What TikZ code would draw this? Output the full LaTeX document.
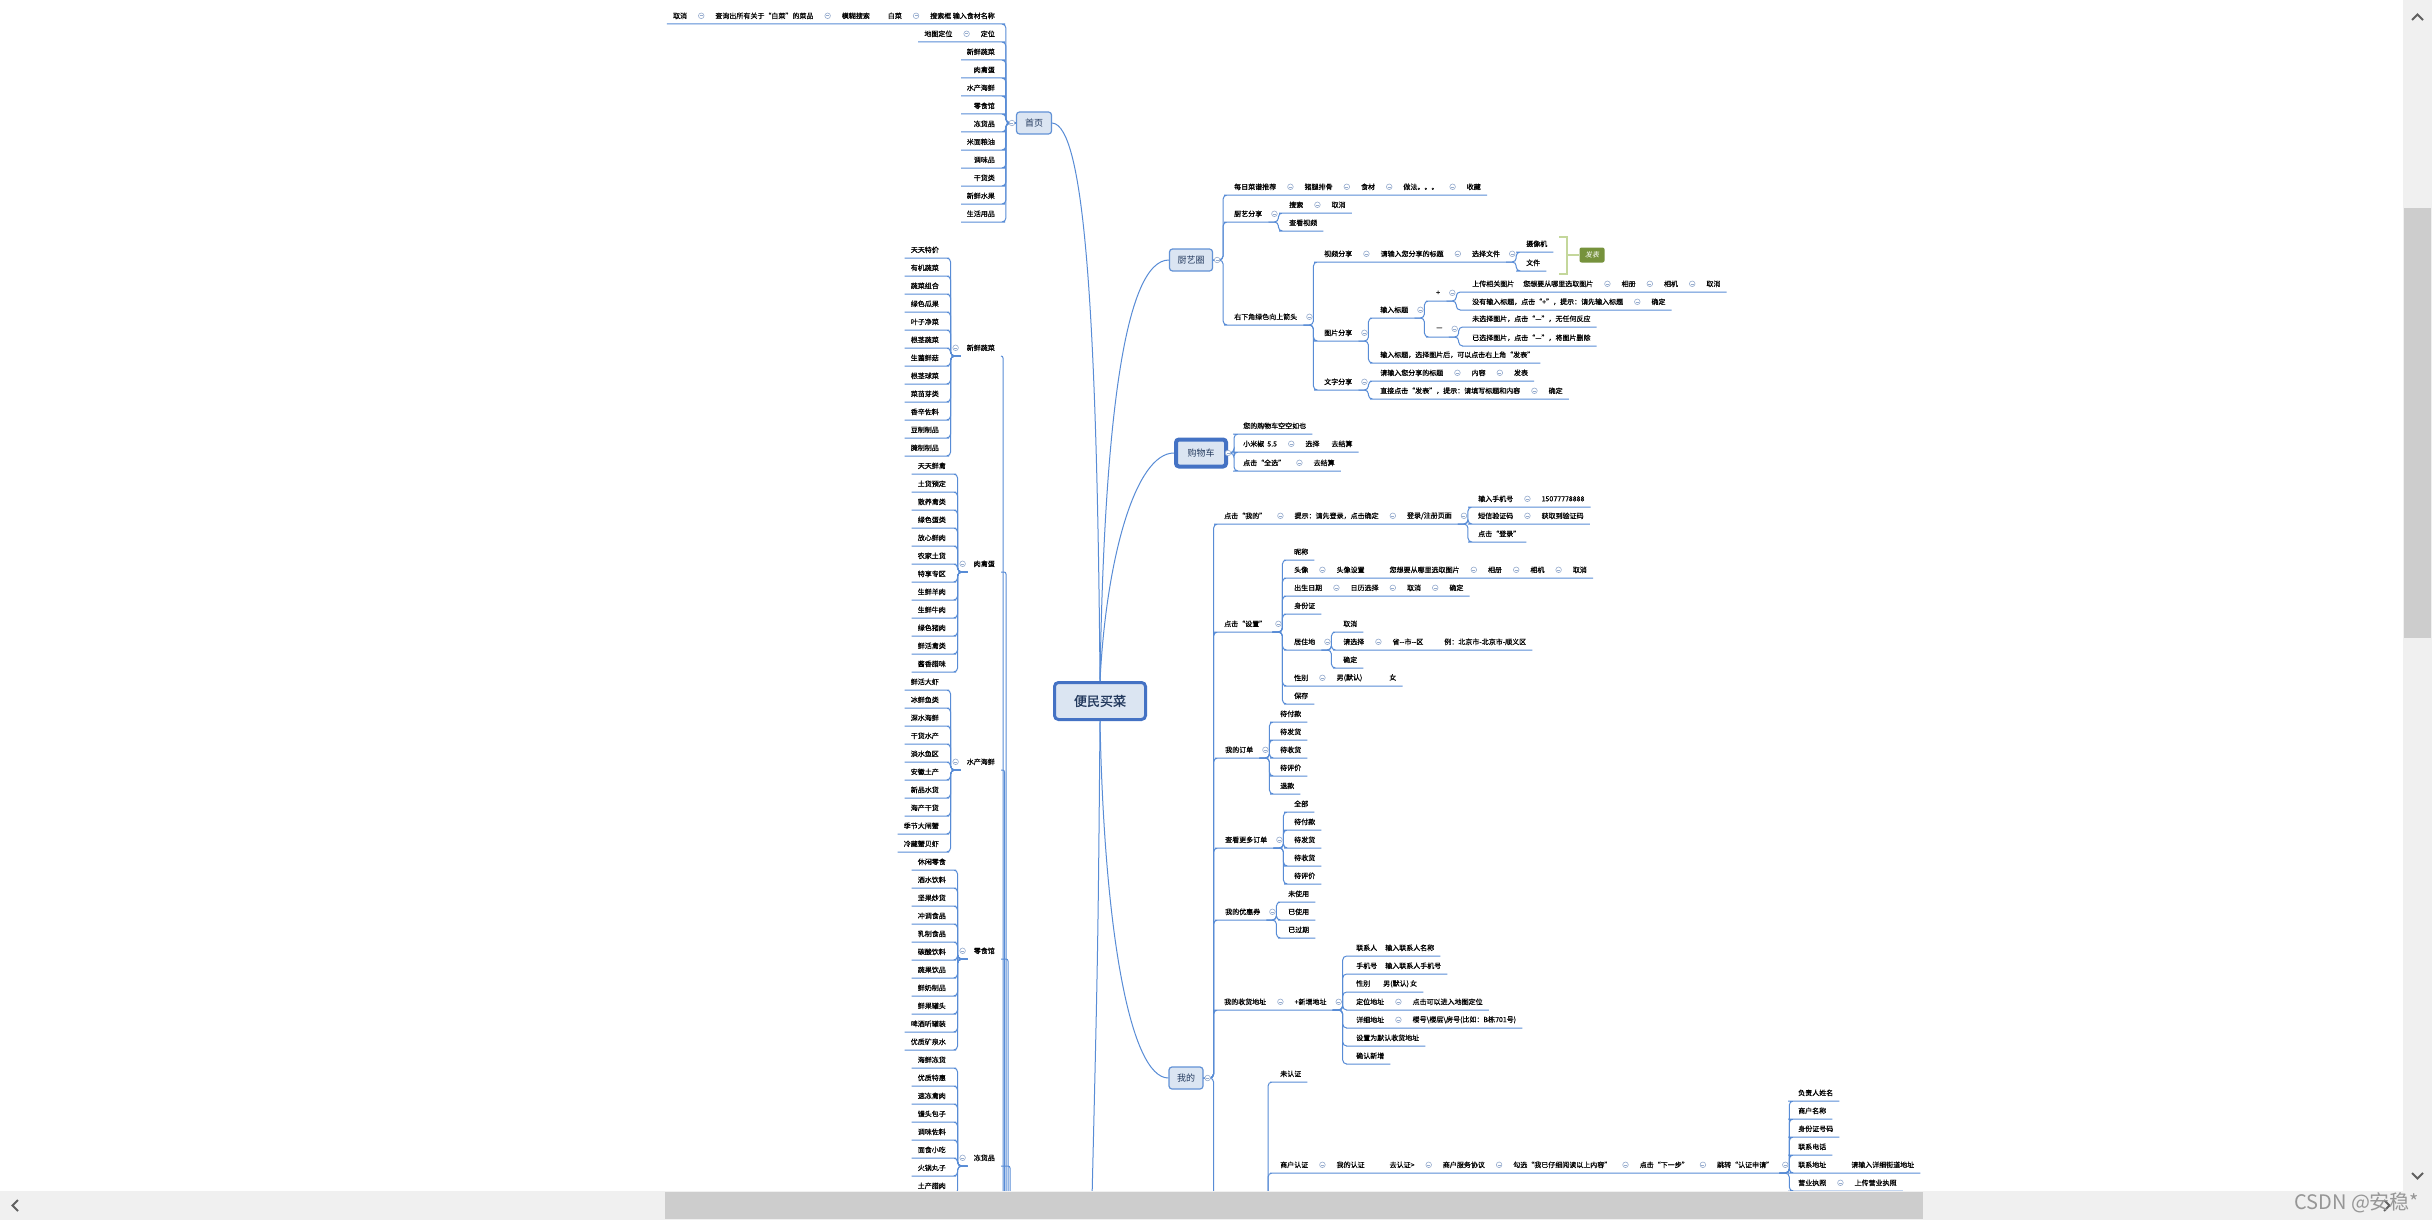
\documentclass[tikz,border=0pt]{standalone}
\usepackage{fontspec}
\setmainfont{Noto Sans CJK SC}
\newfontfamily\slantfont{Noto Sans CJK SC}[FakeSlant=0.2]
\newfontfamily\tpfont{Noto Sans CJK SC}[FakeBold=0.5]
\newfontfamily\mainfont{Noto Sans CJK SC}[FakeBold=1.2]
\usepackage{tikz}
\usetikzlibrary{positioning, calc}

\definecolor{lnkc}{RGB}{88,140,214}
\definecolor{boxf}{RGB}{219,229,242}
\definecolor{boxd}{RGB}{98,146,214}
\definecolor{boxs}{RGB}{68,114,196}
\definecolor{boxt}{RGB}{36,58,94}
\definecolor{foldc}{RGB}{150,172,206}
\definecolor{sumc}{RGB}{196,215,155}
\definecolor{sumf}{RGB}{118,146,60}
\definecolor{barc}{RGB}{240,240,240}
\definecolor{thumbc}{RGB}{205,205,205}
\definecolor{arrc}{RGB}{96,96,96}
\definecolor{wmc}{RGB}{150,150,150}

\begin{document}
\begin{tikzpicture}[x=1pt, y=-1pt,
    tp/.style={font=\tpfont\fontsize{7}{8}\selectfont, inner xsep=6pt, inner ysep=0pt, minimum height=16pt, anchor=south west},
    tl/.style={tp, anchor=south east},
    lnk/.style={draw=lnkc, line width=1pt, rounded corners=4pt},
    box/.style={draw=boxd, fill=boxf, text=boxt, line width=1.2pt, rounded corners=3pt, minimum height=22pt, font=\fontsize{9}{10}\selectfont},
    fold/.pic={\draw[foldc, fill=white, line width=.6pt] (0,0) circle (2.8pt); \draw[foldc, line width=.6pt] (-1.5pt,0) -- (1.5pt,0);}]
\useasboundingbox (0,0) rectangle (2432,1220);
\fill[white] (0,0) rectangle (2432,1220);

% main topics
\node[box, draw=boxs, line width=3pt, minimum width=91pt, minimum height=37pt, rounded corners=4pt, font=\mainfont\fontsize{13}{14}\selectfont] (main) at (1100,701) {便民买菜};
\node[box, minimum width=35pt] (sy) at (1034,123) {首页};
\node[box, minimum width=43pt] (cy) at (1191,260) {厨艺圈};
\node[box, draw=boxs, line width=4pt, minimum width=50pt, minimum height=27pt] (gw) at (1201,453) {购物车};
\node[box, minimum width=34pt] (wd) at (1186,1078) {我的};

\coordinate (mb) at (1091,1240);
\draw[lnk] (main.north) .. controls (1097,320) and (1085,125) .. (sy.east);
\draw[lnk] (main.north) .. controls (1104,420) and (1125,260) .. (cy.west);
\draw[lnk] (main.north) .. controls (1106,560) and (1135,453) .. (gw.west);
\draw[lnk] (main.south) .. controls (1104,930) and (1130,1078) .. (wd.west);
\draw[lnk] (main.south) .. controls (1098,950) .. (mb);

% 首页
\node[tl] (s1) at (1001,24) {搜索框\ 输入食材名称};
\node[tp, left=16pt of s1] (s2) {模糊搜索\hspace{18pt}白菜};
\node[tp, left=16pt of s2] (s3) {查询出所有关于“白菜”的菜品};
\node[tp, left=16pt of s3] (s4) {取消};
\node[tl] (m1) at (1001,42) {定位};
\node[tp, left=16pt of m1] (m2) {地图定位};
\foreach \txt [count=\i] in {新鲜蔬菜,肉禽蛋,水产海鲜,零食馆,冻货品,米面粮油,调味品,干货类,新鲜水果,生活用品}
  \node[tl] (h\i) at (1001,42+18*\i) {\txt};
\draw[lnk] (sy.west) -- ++(-10,0) |- (s1.south east) -- (s4.south west);
\draw[lnk] (sy.west) -- ++(-10,0) |- (m1.south east) -- (m2.south west);
\foreach \i in {1,...,10}
  \draw[lnk] (sy.west) -- ++(-10,0) |- (h\i.south east) -- ++(-40,0);

% categories on the left
\node[tl] (vc) at (1001,356) {新鲜蔬菜};
\node[tl] (rq) at (1001,572) {肉禽蛋};
\node[tl] (sc) at (1001,770) {水产海鲜};
\node[tl] (ls) at (1001,959) {零食馆};
\node[tl] (dh) at (1001,1166) {冻货品};
\foreach \a/\x in {vc/1003, rq/1006, sc/1004.5, ls/1008, dh/1010} {
  \coordinate (\a-e) at (\x,1240);
  \draw[lnk, rounded corners=2pt] (\a.south east) -| (\a-e);
}
\foreach \txt [count=\i from 0] in {天天特价,有机蔬菜,蔬菜组合,绿色瓜果,叶子净菜,根茎蔬菜,生菌鲜菇,根茎球菜,菜苗芽类,香辛佐料,豆制制品,腌制制品} {
  \node[tl] (vc\i) at (945,258+18*\i) {\txt};
  \draw[lnk] (vc.south west) -- ++(-10,0) |- (vc\i.south east) -- (vc\i.south west);
}
\foreach \txt [count=\i from 0] in {天天鲜禽,土货预定,散养禽类,绿色蛋类,放心鲜肉,农家土货,特享专区,生鲜羊肉,生鲜牛肉,绿色猪肉,鲜活禽类,酱香腊味} {
  \node[tl] (rq\i) at (952,474+18*\i) {\txt};
  \draw[lnk] (rq.south west) -- ++(-10,0) |- (rq\i.south east) -- (rq\i.south west);
}
\foreach \txt [count=\i from 0] in {鲜活大虾,冰鲜鱼类,深水海鲜,干货水产,淡水鱼区,安徽土产,新品水货,海产干货,季节大闸蟹,冷藏蟹贝虾} {
  \node[tl] (sc\i) at (945,690+18*\i) {\txt};
  \draw[lnk] (sc.south west) -- ++(-10,0) |- (sc\i.south east) -- (sc\i.south west);
}
\foreach \txt [count=\i from 0] in {休闲零食,酒水饮料,坚果炒货,冲调食品,乳制食品,碳酸饮料,蔬果饮品,鲜奶制品,鲜果罐头,啤酒听罐装,优质矿泉水} {
  \node[tl] (ls\i) at (952,870+18*\i) {\txt};
  \draw[lnk] (ls.south west) -- ++(-10,0) |- (ls\i.south east) -- (ls\i.south west);
}
\foreach \txt [count=\i from 0] in {海鲜冻货,优质特惠,速冻禽肉,馒头包子,调味佐料,面食小吃,火锅丸子,土产腊肉} {
  \node[tl] (dh\i) at (952,1068+18*\i) {\txt};
  \draw[lnk] (dh.south west) -- ++(-10,0) |- (dh\i.south east) -- (dh\i.south west);
}

% 厨艺圈
\node[tp] (c1) at (1228,195) {每日菜谱推荐};
\node[tp, right=16pt of c1] (c1b) {猪腿排骨};
\node[tp, right=16pt of c1b] (c1c) {食材};
\node[tp, right=16pt of c1c] (c1d) {做法。。。};
\node[tp, right=16pt of c1d] (c1e) {收藏};
\node[tp] (c2) at (1228,222) {厨艺分享};
\node[tp] (c2a) at (1283,213) {搜索};
\node[tp, right=16pt of c2a] (c2b) {取消};
\node[tp] (c2c) at (1283,231) {查看视频};
\node[tp] (c3) at (1228,325) {右下角绿色向上箭头};
\node[tp] (v1) at (1318,262) {视频分享};
\node[tp, right=16pt of v1] (v2) {请输入您分享的标题};
\node[tp, right=16pt of v2] (v3) {选择文件};
\node[tp] (v4) at (1520,252) {摄像机};
\node[tp] (v5) at (1520,271) {文件};
\node[fill=sumf, text=white, rounded corners=2pt, minimum width=25pt, minimum height=15pt, inner sep=0pt, font=\slantfont\fontsize{7}{8}\selectfont] (fb) at (1592,255) {发表};
\draw[sumc, line width=1.8pt] (1559,237) -| (1567,274) -- (1559,274);
\draw[sumc, line width=1.8pt] (1567,255) -- (fb.west);
\node[tp] (p1) at (1318,341) {图片分享};
\node[tp] (p2) at (1374,318) {输入标题};
\node[tp] (p3) at (1430,301) {+};
\node[tp] (p4) at (1430,337) {—};
\node[tp] (q1) at (1466,292) {上传相关图片\hspace{9pt}您想要从哪里选取图片};
\node[tp, right=16pt of q1] (q1b) {相册};
\node[tp, right=16pt of q1b] (q1c) {相机};
\node[tp, right=16pt of q1c] (q1d) {取消};
\node[tp] (q2) at (1466,310) {没有输入标题，点击“+”，提示：请先输入标题};
\node[tp, right=16pt of q2] (q2b) {确定};
\node[tp] (r1) at (1466,327) {未选择图片，点击“—”，无任何反应};
\node[tp] (r2) at (1466,346) {已选择图片，点击“—”，将图片删除};
\node[tp] (p5) at (1374,363) {输入标题，选择图片后，可以点击右上角“发表”};
\node[tp] (t1) at (1318,390) {文字分享};
\node[tp] (t2) at (1374,381) {请输入您分享的标题};
\node[tp, right=16pt of t2] (t2b) {内容};
\node[tp, right=16pt of t2b] (t2c) {发表};
\node[tp] (t3) at (1374,399) {直接点击“发表”，提示：请填写标题和内容};
\node[tp, right=16pt of t3] (t3b) {确定};

% 购物车
\node[tp] (g1) at (1237,434) {您的购物车空空如也};
\node[tp] (g2) at (1237,452) {小米椒\ \ 5.5};
\node[tp, right=16pt of g2] (g2b) {选择\hspace{12pt}去结算};
\node[tp] (g3) at (1237,471) {点击“全选”};
\node[tp, right=16pt of g3] (g3b) {去结算};
\foreach \a/\b in {g1/g1, g2/g2b, g3/g3b}
  \draw[lnk] (gw.east) -- ++(6,0) |- (\a.south west) -- (\b.south east);

% 我的
\node[tp] (w1) at (1218,524) {点击“我的”};
\node[tp, right=16pt of w1] (w1b) {提示：请先登录，点击确定};
\node[tp, right=16pt of w1b] (w1c) {登录/注册页面};
\node[tp] (w1d) at (1472,507) {输入手机号};
\node[tp, right=16pt of w1d] (w1e) {15077778888};
\node[tp] (w1f) at (1472,524) {短信验证码};
\node[tp, right=16pt of w1f] (w1g) {获取到验证码};
\node[tp] (w1h) at (1472,542) {点击“登录”};
\node[tp] (w2) at (1218,632) {点击“设置”};
\node[tp] (w2a) at (1288,560) {昵称};
\node[tp] (w2b) at (1288,578) {头像};
\node[tp, right=16pt of w2b] (w2c) {头像设置\hspace{25pt}您想要从哪里选取图片};
\node[tp, right=16pt of w2c] (w2d) {相册};
\node[tp, right=16pt of w2d] (w2e) {相机};
\node[tp, right=16pt of w2e] (w2f) {取消};
\node[tp] (w2g) at (1288,596) {出生日期};
\node[tp, right=16pt of w2g] (w2h) {日历选择};
\node[tp, right=16pt of w2h] (w2i) {取消};
\node[tp, right=16pt of w2i] (w2j) {确定};
\node[tp] (w2k) at (1288,614) {身份证};
\node[tp] (w2l) at (1288,650) {居住地};
\node[tp] (w2m) at (1337,632) {取消};
\node[tp] (w2n) at (1337,650) {请选择};
\node[tp, right=16pt of w2n] (w2o) {省-{}-市-{}-区\hspace{21pt}例：北京市-北京市-顺义区};
\node[tp] (w2p) at (1337,668) {确定};
\node[tp] (w2q) at (1288,686) {性别};
\node[tp, right=16pt of w2q] (w2r) {男(默认)\hspace{27pt}女};
\node[tp] (w2s) at (1288,704) {保存};
\node[tp] (w3) at (1219,758) {我的订单};
\node[tp] (w4) at (1219,848) {查看更多订单};
\node[tp] (w5) at (1219,920) {我的优惠券};
\node[tp] (w6) at (1218,1010) {我的收货地址};
\node[tp, right=16pt of w6] (w6b) {+新增地址};
\node[tp] (w6c) at (1350,956) {联系人\hspace{8pt}输入联系人名称};
\node[tp] (w6d) at (1350,974) {手机号\hspace{8pt}输入联系人手机号};
\node[tp] (w6e) at (1350,992) {性别\hspace{13pt}男(默认)\,女};
\node[tp] (w6f) at (1350,1010) {定位地址};
\node[tp, right=16pt of w6f] (w6g) {点击可以进入地图定位};
\node[tp] (w6h) at (1350,1028) {详细地址};
\node[tp, right=16pt of w6h] (w6i) {楼号\textbackslash 楼层\textbackslash 房号(比如：B栋701号)};
\node[tp] (w6j) at (1350,1046) {设置为默认收货地址};
\node[tp] (w6k) at (1350,1064) {确认新增};
\coordinate (rz) at (1258,1262);
\node[tp] (w7) at (1274,1082) {未认证};
\node[tp] (w8) at (1274,1173) {商户认证};
\node[tp, right=16pt of w8] (w8b) {我的认证\hspace{25pt}去认证>};
\node[tp, right=16pt of w8b] (w8c) {商户服务协议};
\node[tp, right=16pt of w8c] (w8d) {勾选“我已仔细阅读以上内容”};
\node[tp, right=16pt of w8d] (w8e) {点击“下一步”};
\node[tp, right=16pt of w8e] (w8f) {跳转“认证申请”};
\node[tp] (w9a) at (1792,1101) {负责人姓名};
\node[tp] (w9b) at (1792,1119) {商户名称};
\node[tp] (w9c) at (1792,1137) {身份证号码};
\node[tp] (w9d) at (1792,1155) {联系电话};
\node[tp] (w9e) at (1792,1173) {联系地址\hspace{25pt}请输入详细街道地址};
\node[tp] (w9f) at (1792,1191) {营业执照};
\node[tp, right=16pt of w9f] (w9g) {上传营业执照};
\draw[lnk] (wd.east) -- ++(10,0) |- (rz);
\foreach \txt [count=\i from 0] in {待付款,待发货,待收货,待评价,退款} {
  \node[tp] (w3\i) at (1274,722+18*\i) {\txt};
  \draw[lnk] (w3.south east) -- ++(10,0) |- (w3\i.south west) -- (w3\i.south east);
}
\foreach \txt [count=\i from 0] in {全部,待付款,待发货,待收货,待评价} {
  \node[tp] (w4\i) at (1288,812+18*\i) {\txt};
  \draw[lnk] (w4.south east) -- ++(10,0) |- (w4\i.south west) -- (w4\i.south east);
}
\foreach \txt [count=\i from 0] in {未使用,已使用,已过期} {
  \node[tp] (w5\i) at (1282,902+18*\i) {\txt};
  \draw[lnk] (w5.south east) -- ++(10,0) |- (w5\i.south west) -- (w5\i.south east);
}

% fans on the right
\foreach \p/\a/\b in {cy.east/c1/c1e, cy.east/c2/c2, cy.east/c3/c3,
    c2.south east/c2a/c2b, c2.south east/c2c/c2c,
    c3.south east/v1/v3, c3.south east/p1/p1, c3.south east/t1/t1,
    v3.south east/v4/v4, v3.south east/v5/v5,
    p1.south east/p2/p2, p1.south east/p5/p5,
    p2.south east/p3/p3, p2.south east/p4/p4,
    p3.south east/q1/q1d, p3.south east/q2/q2b,
    p4.south east/r1/r1, p4.south east/r2/r2,
    t1.south east/t2/t2c, t1.south east/t3/t3b,
    wd.east/w1/w1c, wd.east/w2/w2, wd.east/w3/w3, wd.east/w4/w4, wd.east/w5/w5, wd.east/w6/w6b,
    w1c.south east/w1d/w1e, w1c.south east/w1f/w1g, w1c.south east/w1h/w1h,
    w2.south east/w2a/w2a, w2.south east/w2b/w2f, w2.south east/w2g/w2j, w2.south east/w2k/w2k,
    w2.south east/w2l/w2l, w2.south east/w2q/w2r, w2.south east/w2s/w2s,
    w2l.south east/w2m/w2m, w2l.south east/w2n/w2o, w2l.south east/w2p/w2p,
    w6b.south east/w6c/w6c, w6b.south east/w6d/w6d, w6b.south east/w6e/w6e, w6b.south east/w6f/w6g,
    w6b.south east/w6h/w6i, w6b.south east/w6j/w6j, w6b.south east/w6k/w6k,
    rz/w7/w7, rz/w8/w8f,
    w8f.south east/w9a/w9a, w8f.south east/w9b/w9b, w8f.south east/w9c/w9c,
    w8f.south east/w9d/w9d, w8f.south east/w9e/w9e, w8f.south east/w9f/w9g}
  \draw[lnk] (\p) -- ++(10,0) |- (\a.south west) -- (\b.south east);

% fold marks
\foreach \a/\b in {s4/s3, s3/s2, s2/s1, m2/m1, c1/c1b, c1b/c1c, c1c/c1d, c1d/c1e, c2a/c2b,
    v1/v2, v2/v3, q1/q1b, q1b/q1c, q1c/q1d, q2/q2b, t2/t2b, t2b/t2c, t3/t3b, g2/g2b, g3/g3b,
    w1/w1b, w1b/w1c, w1d/w1e, w1f/w1g, w2b/w2c, w2c/w2d, w2d/w2e, w2e/w2f, w2g/w2h, w2h/w2i, w2i/w2j,
    w2n/w2o, w2q/w2r, w6/w6b, w6f/w6g, w6h/w6i, w8/w8b, w8b/w8c, w8c/w8d, w8d/w8e, w8e/w8f, w9f/w9g}
  \pic at ($(\a.east)!.5!(\b.west)$) {fold};
\foreach \a in {c2, c3, v3, p1, p2, p3, p4, t1, w1c, w2, w2l, w3, w4, w5, w6b, w8f}
  \pic at ([xshift=6pt]\a.east) {fold};
\foreach \a in {vc, rq, sc, ls, dh}
  \pic at ([xshift=-5pt]\a.west) {fold};
\pic at ([xshift=-4pt]sy.west) {fold};
\pic at ([xshift=4pt]cy.east) {fold};
\pic at (gw.east) {fold};
\pic at ([xshift=4pt]wd.east) {fold};

% scroll bars
\fill[barc] (2403,0) rectangle (2432,1220);
\fill[barc] (0,1191) rectangle (2432,1220);
\fill[thumbc] (2404,208) rectangle (2431,638);
\fill[thumbc] (665,1192) rectangle (1923,1219);
\draw[arrc, line width=2pt] (2412,20) -- (2417.5,14.5) -- (2423,20);
\draw[arrc, line width=2pt] (2412,1173) -- (2417.5,1178.5) -- (2423,1173);
\draw[arrc, line width=2pt] (18,1200) -- (12.5,1205.5) -- (18,1211);
\draw[arrc, line width=2pt] (2384,1200) -- (2389.5,1205.5) -- (2384,1211);
\node[anchor=west, text=wmc, inner sep=0pt, font=\fontsize{20}{21}\selectfont] (wm) at (2294,1203) {CSDN @安稳*};
\end{tikzpicture}
\end{document}
